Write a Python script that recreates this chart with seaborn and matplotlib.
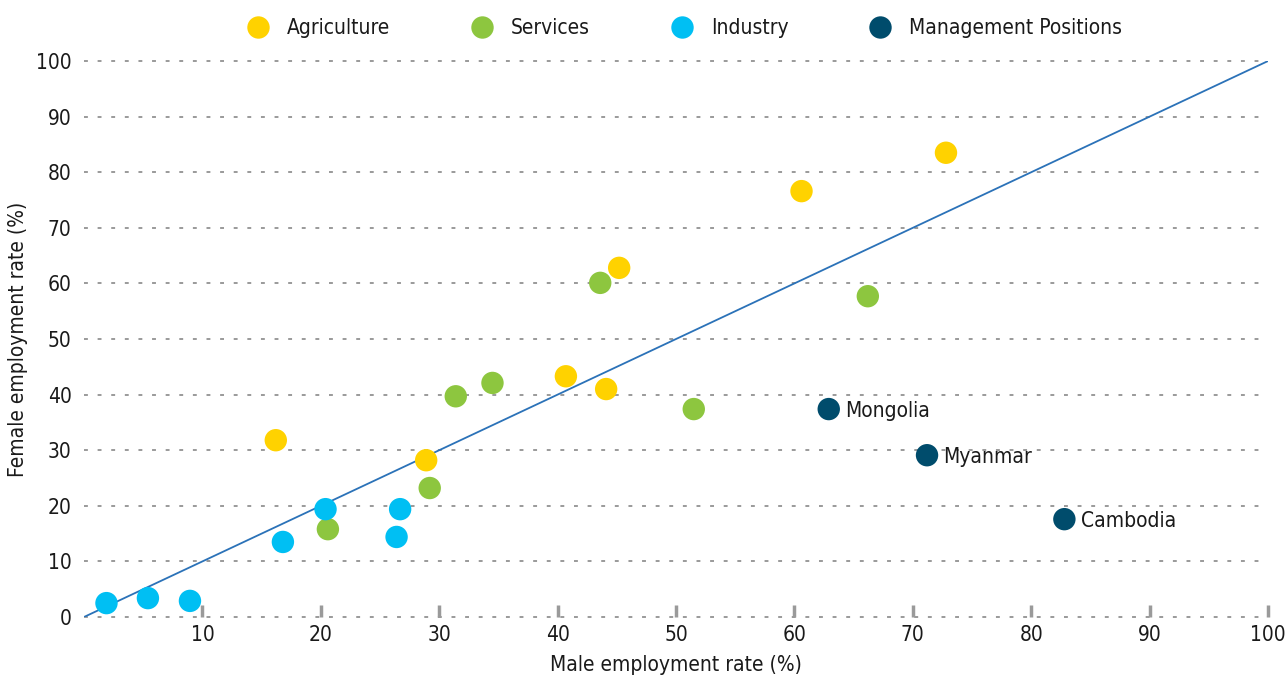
import pandas as pd
import seaborn as sns
import matplotlib.pyplot as plt

# Values (male %, female %)
agri_male = [16.2, 28.9, 40.7, 44.1, 45.2, 60.6, 72.8]
agri_female = [31.8, 28.2, 43.3, 41.0, 62.8, 76.6, 83.5]

serv_male = [20.6, 29.2, 31.4, 34.5, 43.6, 51.5, 66.2]
serv_female = [15.8, 23.2, 39.7, 42.1, 60.1, 37.4, 57.7]

ind_male = [1.9, 5.4, 8.95, 16.8, 20.4, 26.4, 26.7]
ind_female = [2.5, 3.4, 2.9, 13.5, 19.4, 14.4, 19.4]

mgmt_countries = ["Mongolia", "Myanmar", "Cambodia"]
mgmt_male = [62.9, 71.2, 82.8]
mgmt_female = [37.4, 29.1, 17.6]

sectors = ["Agriculture", "Services", "Industry", "Management Positions"]
colors = ["#FFD200", "#8DC63F", "#00BFF3", "#004C6C"]

df = pd.concat([
    pd.DataFrame({"male": agri_male, "female": agri_female, "sector": sectors[0]}),
    pd.DataFrame({"male": serv_male, "female": serv_female, "sector": sectors[1]}),
    pd.DataFrame({"male": ind_male, "female": ind_female, "sector": sectors[2]}),
    pd.DataFrame({"male": mgmt_male, "female": mgmt_female, "sector": sectors[3]}),
], ignore_index=True)

sns.set_theme(style="white")
plt.rcParams['font.family'] = ['DejaVu Sans Condensed', 'Liberation Sans Narrow', 'DejaVu Sans']
plt.rcParams['font.stretch'] = 'condensed'
txt = "#1a1a1a"

fig = plt.figure(figsize=(12.88, 6.75), dpi=100)
ax = fig.add_axes([0.0652, 0.0859, 0.9193, 0.8237])

# parity line
ax.plot([0, 100], [0, 100], color="#2B72B8", lw=1.3, zorder=1)

sns.scatterplot(data=df, x="male", y="female", hue="sector", hue_order=sectors,
                palette=colors, s=260, edgecolor="none", ax=ax, zorder=3, clip_on=False)

for name, x, y in zip(mgmt_countries, mgmt_male, mgmt_female):
    ax.text(x + 1.4, y - 0.3, name, fontsize=15, va="center", ha="left", color=txt)

ax.set_xlim(0, 100)
ax.set_ylim(0, 100)
for v in range(0, 101, 10):
    ax.axhline(v, color="#9a9a9a", lw=1.4, ls=(0, (2, 5)), zorder=0, clip_on=False)

ax.set_xticks(range(10, 101, 10))
ax.set_yticks(range(0, 101, 10))
ax.tick_params(axis="x", direction="in", length=9, width=2.5, color="#9a9a9a",
               labelsize=15, pad=6, bottom=True, labelcolor=txt)
ax.tick_params(axis="y", length=0, labelsize=15, pad=9, labelcolor=txt)
for s in ax.spines.values():
    s.set_visible(False)

ax.set_xlabel("Male employment rate (%)", fontsize=15, color=txt)
ax.set_ylabel("Female employment rate (%)", fontsize=15, color=txt)
ax.xaxis.set_label_coords(0.5, -0.068)
ax.yaxis.set_label_coords(-0.047, 0.5)

leg = ax.legend(loc="center", bbox_to_anchor=(0.503, 1.059), ncol=4, frameon=False,
                fontsize=15, handletextpad=0.4, columnspacing=3.4, markerscale=1.0,
                title=None)
for t in leg.get_texts():
    t.set_color(txt)

plt.savefig("out.png", dpi=100)
